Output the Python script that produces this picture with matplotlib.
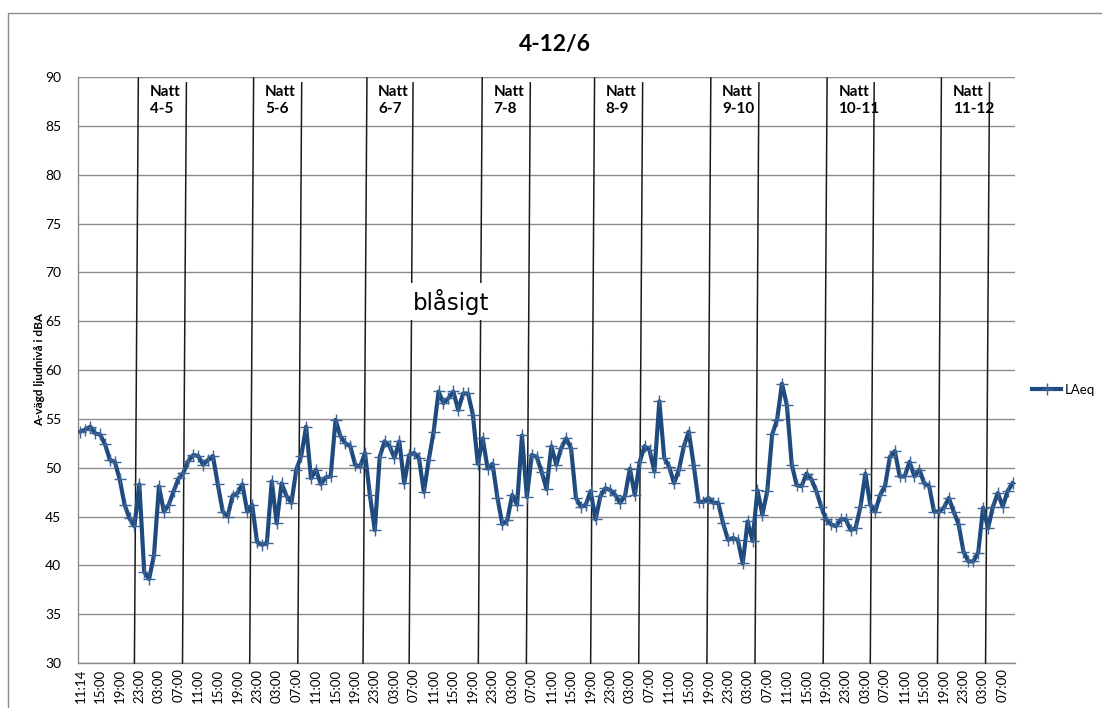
import matplotlib
matplotlib.use('Agg')
import matplotlib.pyplot as plt
from matplotlib.patches import Rectangle

# hourly LAeq readings, 4/6 11:14 -> 12/6 ~09:00
laeq = [
    53.7, 53.9, 54.2, 53.5, 53.4, 52.4, 50.8, 50.6, 48.8, 46.2,
    44.8, 44.0, 48.3, 39.3, 38.6, 41.1, 48.1, 45.5, 46.2, 47.6,
    48.9, 49.5, 50.7, 51.3, 51.2, 50.3, 50.8, 51.2, 48.3, 45.5,
    45.0, 47.1, 47.4, 48.3, 45.5, 46.2, 42.4, 42.1, 42.3, 48.6,
    44.3, 48.4, 47.1, 46.4, 49.8, 51.2, 54.2, 48.9, 49.8, 48.3,
    49.0, 49.1, 54.9, 53.2, 52.5, 52.2, 50.3, 50.1, 51.5, 47.2,
    43.6, 51.1, 52.7, 52.2, 51.0, 52.7, 48.4, 51.3, 51.5, 51.0,
    47.5, 50.8, 53.7, 57.8, 56.6, 57.1, 57.8, 55.9, 57.6, 57.6,
    55.4, 50.4, 53.0, 49.9, 50.4, 46.9, 44.2, 44.6, 47.2, 46.2,
    53.3, 47.0, 51.3, 51.1, 49.6, 47.8, 52.2, 50.3, 52.0, 53.0,
    52.0, 46.9, 46.0, 46.2, 47.6, 44.7, 47.1, 47.9, 47.7, 47.2,
    46.4, 47.1, 49.9, 47.2, 50.6, 52.2, 51.8, 49.6, 56.8, 51.0,
    50.1, 48.4, 49.8, 52.2, 53.7, 50.3, 46.5, 46.5, 46.9, 46.4,
    46.4, 44.3, 42.6, 42.8, 42.6, 40.2, 44.5, 42.5, 47.7, 45.2,
    47.6, 53.4, 54.9, 58.6, 56.4, 50.3, 48.2, 48.1, 49.4, 48.8,
    47.6, 46.0, 44.7, 44.2, 44.0, 44.7, 44.7, 43.6, 43.8, 46.0,
    49.4, 46.2, 45.5, 47.2, 48.1, 51.1, 51.7, 49.1, 49.1, 50.6,
    49.1, 49.8, 48.4, 48.1, 45.5, 45.5, 45.9, 46.9, 45.5, 44.2,
    41.4, 40.4, 40.4, 41.3, 45.9, 43.8, 46.0, 47.4, 46.0, 47.6,
    48.4,
]

# every 4th hour gets a label
tick_labels = ['11:14', '15:00', '19:00', '23:00', '03:00', '07:00'] + \
              ['11:00', '15:00', '19:00', '23:00', '03:00', '07:00'] * 7

# hand drawn night markers (hour index at the foot of each line)
nights = ['4-5', '5-6', '6-7', '7-8', '8-9', '9-10', '10-11', '11-12']
night_start = [11.0, 34.5, 57.6, 81.1, 104.0, 127.7, 151.4, 174.7]
night_end = [20.8, 44.3, 67.0, 90.9, 113.8, 137.5, 161.0, 184.5]

line_col = '#1f4a7e'
plt.rcParams['font.family'] = ['Lato', 'DejaVu Sans']

fig = plt.figure(figsize=(11.02, 7.08), dpi=100)
ax = fig.add_axes([78 / 1102, 1 - 663 / 708, 937 / 1102, 586 / 708])

x = list(range(len(laeq)))
ax.plot(x, laeq, color=line_col, lw=3.0, marker='+', ms=9, mew=1.0,
        mec='#3d6496', label='LAeq', zorder=5)

ax.set_xlim(-0.5, len(laeq) - 0.5)
ax.set_ylim(30, 90)
ax.set_yticks(range(30, 91, 5))
ax.set_xticks(range(0, 4 * len(tick_labels), 4))
ax.set_xticklabels(tick_labels, rotation=90, fontsize=9.5)
ax.tick_params(axis='both', length=0)
ax.tick_params(axis='y', labelsize=10, pad=12)
ax.tick_params(axis='x', pad=4)
ax.grid(axis='y', color='#8c8c8c', lw=1.0)
ax.set_axisbelow(True)
for s in ['top', 'right']:
    ax.spines[s].set_visible(False)
for s in ['left', 'bottom']:
    ax.spines[s].set_color('#8c8c8c')
    ax.spines[s].set_linewidth(1.0)

slant = 0.8
for name, a, b in zip(nights, night_start, night_end):
    ax.plot([a + slant, a], [89.9, 30.0], color='#1a1a1a', lw=1.1, zorder=3, clip_on=False)
    ax.plot([b + slant, b], [89.4, 30.0], color='#1a1a1a', lw=1.1, zorder=3, clip_on=False)
    ax.text(a + slant + 2.3, 89.2, 'Natt\n' + name, fontsize=11, fontweight='bold',
            va='top', ha='left', linespacing=1.3)

# blåsigt label sits on a white patch that hides grid and lines
ax.add_patch(Rectangle((62.9, 65.1), 24.1, 3.8, facecolor='white', edgecolor='none', zorder=4))
ax.text(75.6, 67.0, 'blåsigt', fontsize=16.5, family='DejaVu Sans', ha='center', va='center', zorder=4.5)

fig.text(555 / 1102, 1 - 45 / 708, '4-12/6', ha='center', va='center',
         fontsize=16.5, fontweight='bold')
fig.text(40 / 1102, 1 - 370 / 708, 'A-vägd ljudnivå i dBA', rotation=90,
         ha='center', va='center', fontsize=8.5, fontweight='bold')

fig.legend(loc='center left', bbox_to_anchor=(1032 / 1102, 1 - 390 / 708),
           frameon=False, fontsize=9.5, handlelength=2.2, handletextpad=0.3,
           borderpad=0, borderaxespad=0)

fig.patches.append(Rectangle((8 / 1102, -0.5), 1.2, 0.5 + 1 - 13 / 708,
                             transform=fig.transFigure, fill=False,
                             edgecolor='#8c8c8c', lw=1.0))

fig.savefig('out.png', dpi=100)
